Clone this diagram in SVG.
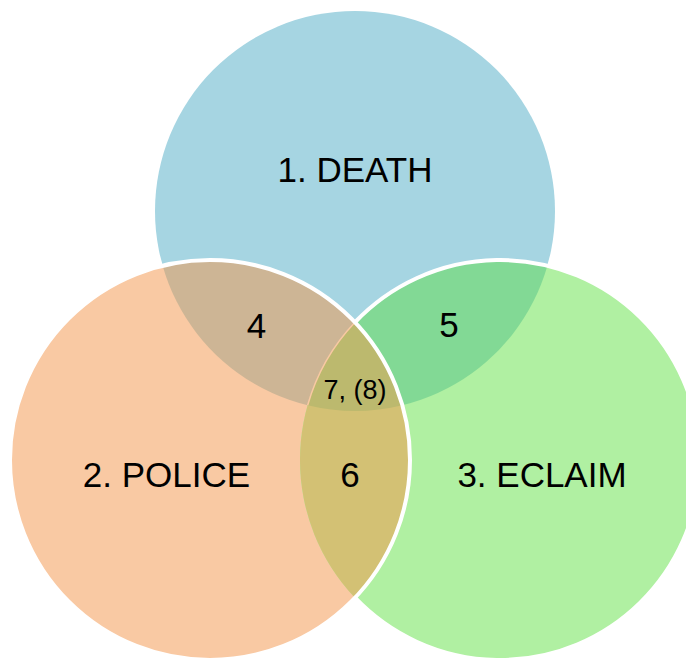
<svg xmlns="http://www.w3.org/2000/svg" width="686" height="658" viewBox="0 0 686 658">
  <style>
    .lbl { font-family: "Liberation Sans", Arial, sans-serif; font-size: 35px; fill: #000; text-anchor: middle; }
    .small { font-size: 27px; }
    .edge { fill: none; stroke: #fff; stroke-width: 4; }
  </style>
  <rect width="686" height="658" fill="#fff"/>
  <g id="set1">
    <circle cx="355" cy="211" r="200" fill="#a6d5e2"/>
  </g>
  <g id="set2">
    <circle cx="210" cy="460" r="200" fill="#f9c9a3"/>
  </g>
  <g id="set3">
    <circle cx="500" cy="460" r="200" fill="#b0f0a2"/>
  </g>
  <g id="region4">
    <path d="M162.62,265.69 A200,200 0 0 1 402.38,405.31 A200,200 0 0 1 162.62,265.69 Z" fill="#cdb595"/>
  </g>
  <g id="region5">
    <path d="M547.38,265.69 A200,200 0 0 0 307.62,405.31 A200,200 0 0 0 547.38,265.69 Z" fill="#82d995"/>
  </g>
  <g id="region6">
    <path d="M355,322.25 A200,200 0 0 1 355,597.75 A200,200 0 0 1 355,322.25 Z" fill="#d3c174"/>
  </g>
  <g id="region7">
    <path d="M355,322.25 A200,200 0 0 1 402.38,405.31 A200,200 0 0 1 307.62,405.31 A200,200 0 0 1 355,322.25 Z" fill="#bcb96e"/>
    <path d="M307.62,405.31 A200,200 0 0 1 355,322.25" fill="none" stroke="#f9c9a3" stroke-width="1.5"/>
  </g>
  <g id="connectors">
    <circle class="edge" cx="210" cy="460" r="200"/>
    <path class="edge" d="M355,322.25 A200,200 0 1 1 355,597.75"/>
  </g>
  <g id="labels">
    <text class="lbl" x="355" y="181.5">1. DEATH</text>
    <text class="lbl" x="166.5" y="487">2. POLICE</text>
    <text class="lbl" x="542" y="486.5">3. ECLAIM</text>
    <text class="lbl" x="256.5" y="337.5">4</text>
    <text class="lbl" x="449" y="337">5</text>
    <text class="lbl" x="350" y="487">6</text>
    <text class="lbl small" x="355" y="399">7, (8)</text>
  </g>
</svg>
